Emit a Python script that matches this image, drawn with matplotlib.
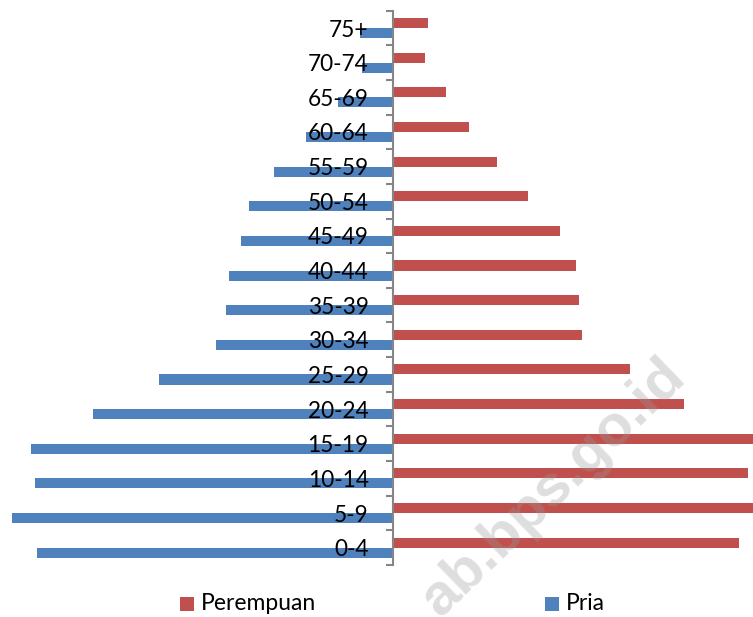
import matplotlib
matplotlib.use("Agg")
import matplotlib.pyplot as plt
from matplotlib.patches import Rectangle
import numpy as np

plt.rcParams['font.family'] = ['Lato', 'DejaVu Sans']

categories = ["0-4", "5-9", "10-14", "15-19", "20-24", "25-29", "30-34", "35-39",
              "40-44", "45-49", "50-54", "55-59", "60-64", "65-69", "70-74", "75+"]
perempuan = [346, 366, 355, 368, 291, 237, 189, 186, 183, 167, 135, 104, 76, 53, 32, 35]
pria = [356, 381, 358, 362, 300, 234, 177, 167, 164, 152, 144, 119, 87, 55, 31, 33]

RED = "#C0504D"
BLUE = "#4F81BD"

W, H = 753, 617
fig = plt.figure(figsize=(W / 100, H / 100), dpi=100)
top_px, bot_px = 10.7, 565.0
ax = fig.add_axes([0, 1 - bot_px / H, 1, (bot_px - top_px) / H])

y = np.arange(len(categories))
bh = 0.29
ax.barh(y + bh / 2, perempuan, height=bh, color=RED, edgecolor="none", label="Perempuan")
ax.barh(y - bh / 2, [-v for v in pria], height=bh, color=BLUE, edgecolor="none", label="Pria")

ax.set_xlim(-393, 360)
ax.set_ylim(-0.5, len(categories) - 0.5)

for s in ["top", "right", "bottom"]:
    ax.spines[s].set_visible(False)
ax.spines["left"].set_position(("data", 0))
ax.spines["left"].set_color("#868686")
ax.spines["left"].set_linewidth(1.5)
ax.set_xticks([])

ax.set_yticks(y)
ax.set_yticklabels(categories, fontsize=16.3, color="black")
ax.set_yticks(np.arange(-0.5, len(categories), 1.0), minor=True)
ax.tick_params(axis="y", which="major", length=0, pad=17.5)
ax.tick_params(axis="y", which="minor", length=5, width=1.5, color="#868686", direction="out")
ax.patch.set_visible(False)

# legend
sq = 14
fig.add_artist(Rectangle((180 / W, 1 - 611 / H), sq / W, sq / H, transform=fig.transFigure,
                         color=RED, lw=0))
fig.text(201 / W, 1 - 604 / H, "Perempuan", fontsize=16.5, va="center", ha="left")
fig.add_artist(Rectangle((545 / W, 1 - 611 / H), sq / W, sq / H, transform=fig.transFigure,
                         color=BLUE, lw=0))
fig.text(566 / W, 1 - 604 / H, "Pria", fontsize=16.5, va="center", ha="left")

# watermark
fig.text(553 / W, 1 - 488 / H, "ab.bps.go.id", fontsize=42, fontweight="bold",
         family="Liberation Sans", color="#9a9a9a", alpha=0.32, rotation=44,
         ha="center", va="center", zorder=10)

fig.savefig("out.png", dpi=100)
